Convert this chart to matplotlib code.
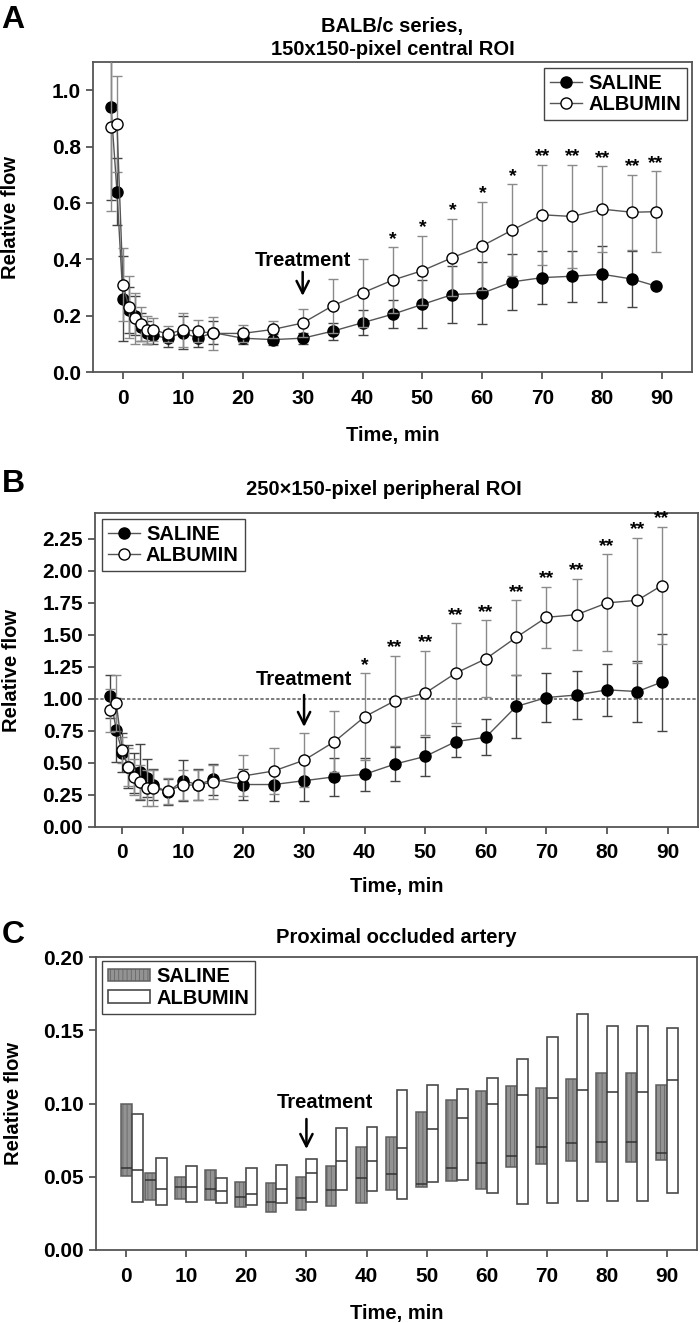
import matplotlib
matplotlib.use("Agg")
import matplotlib.pyplot as plt
import numpy as np

plt.rcParams['font.family'] = ['Liberation Sans', 'DejaVu Sans']
plt.rcParams['font.weight'] = 'bold'
plt.rcParams['axes.labelweight'] = 'bold'
plt.rcParams['axes.titleweight'] = 'bold'
plt.rcParams['hatch.linewidth'] = 0.5

# --- data ---
time = [-2, -1, 0, 1, 2, 3, 4, 5, 7.5, 10, 12.5, 15, 20, 25, 30, 35,
        40, 45, 50, 55, 60, 65, 70, 75, 80, 85, 89]

# A: BALB/c, central ROI
a_saline = [0.94, 0.64, 0.26, 0.22, 0.20, 0.16, 0.14, 0.13, 0.12, 0.14, 0.12, 0.14, 0.12, 0.115, 0.12, 0.145,
            0.175, 0.205, 0.24, 0.275, 0.28, 0.32, 0.335, 0.34, 0.347, 0.33, 0.305]
a_saline_err = [0.33, 0.12, 0.15, 0.08, 0.07, 0.05, 0.04, 0.03, 0.03, 0.06, 0.03, 0.04, 0.02, 0.02, 0.02, 0.03,
                0.045, 0.05, 0.085, 0.10, 0.11, 0.10, 0.093, 0.09, 0.10, 0.10, 0.0]
a_albumin = [0.87, 0.88, 0.31, 0.23, 0.19, 0.17, 0.15, 0.15, 0.135, 0.15, 0.145, 0.137, 0.137, 0.151, 0.174, 0.235,
             0.281, 0.326, 0.36, 0.406, 0.448, 0.504, 0.558, 0.552, 0.578, 0.567, 0.569]
a_albumin_err = [0.30, 0.17, 0.13, 0.11, 0.09, 0.06, 0.05, 0.04, 0.03, 0.06, 0.04, 0.06, 0.03, 0.03, 0.05, 0.095,
                 0.12, 0.117, 0.123, 0.137, 0.157, 0.163, 0.177, 0.183, 0.152, 0.133, 0.143]
a_stars = [''] * 17 + ['*', '*', '*', '*', '*', '**', '**', '**', '**', '**']

# B: peripheral ROI
b_saline = [1.02, 0.76, 0.58, 0.47, 0.42, 0.43, 0.38, 0.33, 0.27, 0.36, 0.33, 0.37, 0.33, 0.33, 0.36, 0.39,
            0.41, 0.49, 0.55, 0.665, 0.70, 0.94, 1.01, 1.03, 1.07, 1.057, 1.13]
b_saline_err = [0.17, 0.25, 0.15, 0.17, 0.16, 0.22, 0.15, 0.12, 0.10, 0.16, 0.12, 0.12, 0.12, 0.13, 0.16, 0.15,
                0.13, 0.13, 0.15, 0.12, 0.14, 0.25, 0.19, 0.19, 0.205, 0.24, 0.38]
b_albumin = [0.91, 0.97, 0.60, 0.465, 0.39, 0.35, 0.30, 0.30, 0.28, 0.326, 0.326, 0.35, 0.397, 0.436, 0.52, 0.665,
             0.86, 0.985, 1.045, 1.20, 1.313, 1.48, 1.637, 1.658, 1.75, 1.77, 1.885]
b_albumin_err = [0.17, 0.22, 0.10, 0.15, 0.14, 0.13, 0.14, 0.14, 0.10, 0.12, 0.12, 0.13, 0.16, 0.18, 0.21, 0.24,
                 0.34, 0.35, 0.33, 0.39, 0.30, 0.29, 0.24, 0.28, 0.38, 0.49, 0.46]
b_stars = [''] * 16 + ['*'] + ['**'] * 10

# C: proximal occluded artery (floating boxes: low, high, median)
c_time = [1, 5, 10, 15, 20, 25, 30, 35, 40, 45, 50, 55, 60, 65, 70, 75, 80, 85, 90]
c_sal_lo = [0.0506, 0.0342, 0.0346, 0.0342, 0.0292, 0.0262, 0.027, 0.0303, 0.0319, 0.041, 0.0432, 0.047,
            0.042, 0.0569, 0.0588, 0.0608, 0.0603, 0.0603, 0.0615]
c_sal_hi = [0.0996, 0.0529, 0.0497, 0.0547, 0.0462, 0.0456, 0.050, 0.0577, 0.0706, 0.077, 0.0945, 0.1025,
            0.1089, 0.112, 0.111, 0.1166, 0.1207, 0.1207, 0.1128]
c_sal_med = [0.056, 0.048, 0.0433, 0.042, 0.0365, 0.033, 0.0353, 0.041, 0.049, 0.0517, 0.045, 0.0558,
             0.0597, 0.0642, 0.0706, 0.073, 0.074, 0.074, 0.066]
c_alb_lo = [0.033, 0.0307, 0.033, 0.032, 0.0307, 0.032, 0.033, 0.041, 0.0405, 0.0349, 0.0467, 0.0481,
            0.0387, 0.0312, 0.0319, 0.0333, 0.0333, 0.0333, 0.0387]
c_alb_hi = [0.0927, 0.063, 0.0577, 0.0495, 0.0558, 0.058, 0.062, 0.0836, 0.0838, 0.1093, 0.1128, 0.1098,
            0.1173, 0.1303, 0.1453, 0.161, 0.153, 0.153, 0.1515]
c_alb_med = [0.0547, 0.0415, 0.0433, 0.040, 0.038, 0.0415, 0.0528, 0.0608, 0.061, 0.0695, 0.0825, 0.090,
             0.0998, 0.106, 0.1037, 0.109, 0.108, 0.108, 0.116]

treat_time = 30

LINE = '#555555'
FS = 14.5      # titles, axis labels, legend
TFS = 15       # tick labels

fig = plt.figure(figsize=(7, 13.23), dpi=100)


def style_axes(ax, xlim, ylim, yticks, yfmt, xlab_y):
    ax.set_xlim(*xlim)
    ax.set_ylim(*ylim)
    ax.set_xticks(np.arange(0, 91, 10))
    ax.set_yticks(yticks)
    ax.set_yticklabels([yfmt.format(v) for v in yticks])
    for s in ax.spines.values():
        s.set_color(LINE)
        s.set_linewidth(1.3)
    ax.tick_params(axis='both', direction='out', length=5, width=1.3, color=LINE, labelsize=TFS)
    ax.tick_params(axis='x', pad=7)
    ax.tick_params(axis='y', pad=3.5)
    ax.set_xlabel('Time, min', fontsize=FS)
    ax.set_ylabel('Relative flow', fontsize=FS)
    ax.xaxis.set_label_coords(0.5, xlab_y)
    ax.yaxis.set_label_coords(-0.122, 0.5)


def line_panel(ax, sal, sal_err, alb, alb_err, stars):
    c1 = ax.errorbar(time, sal, yerr=sal_err, fmt='-o', color=LINE, lw=1, ms=8,
                     mfc='black', mec='black', ecolor='#444444', elinewidth=1, capsize=3.5, zorder=3)
    c2 = ax.errorbar(time, alb, yerr=alb_err, fmt='-o', color=LINE, lw=1, ms=8,
                     mfc='white', mec='black', mew=1, ecolor='#8a8a8a', elinewidth=1, capsize=3.5, zorder=4)
    for t, a, e, s in zip(time, alb, alb_err, stars):
        if s:
            ax.annotate(s, (t, a + e), xytext=(0, 2.5), textcoords='offset points',
                        ha='center', va='baseline', fontsize=14)
    return [c1[0], c2[0]]


def treatment(ax, text_y, tail_y, tip_y, text_x=None):
    ax.annotate('', xy=(treat_time, tip_y), xytext=(treat_time, tail_y),
                arrowprops=dict(arrowstyle='->', lw=1.8, color='black', mutation_scale=22,
                                shrinkA=0, shrinkB=0))
    ax.text(treat_time if text_x is None else text_x, text_y, 'Treatment',
            ha='center', va='center', fontsize=FS)


leg_kw = dict(fontsize=FS, frameon=True, fancybox=False, framealpha=1, edgecolor='#444444',
              borderpad=0.3, handletextpad=0.3, labelspacing=0.12, borderaxespad=0)
labels = ['SALINE', 'ALBUMIN']

# ---------------- Panel A ----------------
axA = fig.add_axes([0.1329, 0.7188, 0.8557, 0.2343])
hA = line_panel(axA, a_saline, a_saline_err, a_albumin, a_albumin_err, a_stars)
treatment(axA, 0.397, 0.355, 0.27)
style_axes(axA, (-5, 95), (0, 1.1), [0.0, 0.2, 0.4, 0.6, 0.8, 1.0], '{:.1f}', -0.175)
axA.set_title('BALB/c series,\n150x150-pixel central ROI', fontsize=FS, pad=5, linespacing=1.3)
legA = axA.legend(hA, labels, loc='upper right', bbox_to_anchor=(0.992, 0.981), handlelength=1.6, **leg_kw)
legA.get_frame().set_linewidth(1.0)

# ---------------- Panel B ----------------
axB = fig.add_axes([0.1357, 0.3751, 0.8614, 0.2369])
axB.axhline(1.0, color='#666666', lw=1.2, ls=(0, (2, 1.2)), zorder=1)
hB = line_panel(axB, b_saline, b_saline_err, b_albumin, b_albumin_err, b_stars)
treatment(axB, 1.15, 1.03, 0.78)
style_axes(axB, (-4.5, 95), (0, 2.45), [0.0, 0.25, 0.5, 0.75, 1.0, 1.25, 1.5, 1.75, 2.0, 2.25],
           '{:.2f}', -0.16)
axB.set_title('250\u00d7150-pixel peripheral ROI', fontsize=FS, pad=13, x=0.479)
legB = axB.legend(hB, labels, loc='upper left', bbox_to_anchor=(0.011, 0.982), handlelength=1.6, **leg_kw)
legB.get_frame().set_linewidth(1.0)

# ---------------- Panel C ----------------
axC = fig.add_axes([0.1371, 0.0552, 0.859, 0.2212])
c_t = np.array(c_time, dtype=float)
sal_lo, sal_hi = np.array(c_sal_lo), np.array(c_sal_hi)
alb_lo, alb_hi = np.array(c_alb_lo), np.array(c_alb_hi)
bw = 1.8
axC.bar(c_t, sal_hi - sal_lo, bottom=sal_lo, width=-bw, align='edge', color='#939393',
        edgecolor='#5e5e5e', linewidth=1.1, hatch='||||', label='SALINE', zorder=2)
axC.bar(c_t, alb_hi - alb_lo, bottom=alb_lo, width=bw, align='edge', color='white',
        edgecolor='#4a4a4a', linewidth=1.2, label='ALBUMIN', zorder=2)
axC.hlines(c_sal_med, c_t - bw, c_t, color='#333333', lw=1.1, zorder=3)
axC.hlines(c_alb_med, c_t, c_t + bw, color='#333333', lw=1.1, zorder=3)
treatment(axC, 0.101, 0.0895, 0.069, text_x=33)
style_axes(axC, (-5, 95), (0, 0.20), [0.0, 0.05, 0.10, 0.15, 0.20], '{:.2f}', -0.185)
axC.set_title('Proximal occluded artery', fontsize=FS, pad=10)
legC = axC.legend(loc='upper left', bbox_to_anchor=(0.0095, 0.987), handlelength=2.1,
                  handleheight=0.6, **leg_kw)
legC.get_frame().set_linewidth(1.0)

# panel letters
fig.text(0.002, 1 - 5 / 1323, 'A', fontsize=23, va='top', ha='left')
fig.text(0.002, 1 - 469 / 1323, 'B', fontsize=23, va='top', ha='left')
fig.text(0.002, 1 - 920 / 1323, 'C', fontsize=23, va='top', ha='left')

fig.savefig('out.png', dpi=100)
